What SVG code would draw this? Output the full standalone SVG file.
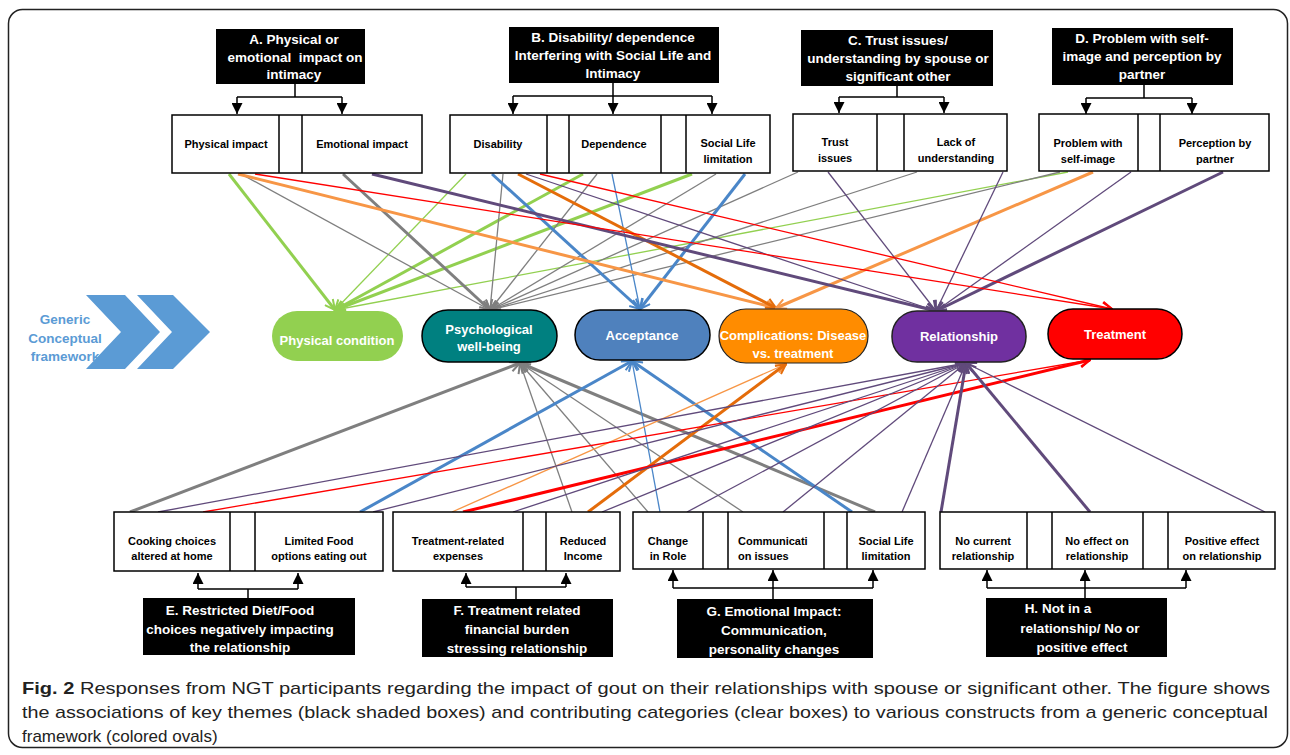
<svg xmlns="http://www.w3.org/2000/svg" width="1290" height="755" viewBox="0 0 1290 755">
<defs>
<style>
.frame{fill:#fff;stroke:#222;stroke-width:1.5}
.kb{fill:#000}
.kt{fill:#fff;font-family:"Liberation Sans",Arial,sans-serif;font-weight:bold;font-size:13.5px;text-anchor:middle}
.box{fill:#fff;stroke:#000;stroke-width:1.5}
.bt{fill:#000;font-family:"Liberation Sans",Arial,sans-serif;font-weight:bold;font-size:11px;text-anchor:middle}
.ot{fill:#fff;font-family:"Liberation Sans",Arial,sans-serif;font-weight:bold;font-size:13px;text-anchor:middle}
.kc{fill:none;stroke:#000;stroke-width:1.5}
.t1{stroke-width:1.3;fill:none}
.t3{stroke-width:3;fill:none}
.g{stroke:#92D050}.y{stroke:#7F7F7F}.o{stroke:#F79646}.d{stroke:#E46C0A}.r{stroke:#FF0000}.p{stroke:#604A7B}.b{stroke:#4A86C8}
.cap{font-family:"Liberation Sans",Arial,sans-serif;font-size:17px;fill:#222}
.gen{fill:#5B9BD5;font-family:"Liberation Sans",Arial,sans-serif;font-weight:bold;font-size:13.5px;text-anchor:middle}
</style>
<marker id="aG" viewBox="0 0 12 12" refX="11" refY="6" markerWidth="12" markerHeight="12" markerUnits="userSpaceOnUse" orient="auto"><path d="M1,1 L11,6 L1,11" fill="none" stroke="#92D050" stroke-width="2"/></marker>
<marker id="aY" viewBox="0 0 12 12" refX="11" refY="6" markerWidth="12" markerHeight="12" markerUnits="userSpaceOnUse" orient="auto"><path d="M1,1 L11,6 L1,11" fill="none" stroke="#7F7F7F" stroke-width="2"/></marker>
<marker id="aO" viewBox="0 0 12 12" refX="11" refY="6" markerWidth="12" markerHeight="12" markerUnits="userSpaceOnUse" orient="auto"><path d="M1,1 L11,6 L1,11" fill="none" stroke="#F79646" stroke-width="2"/></marker>
<marker id="aD" viewBox="0 0 12 12" refX="11" refY="6" markerWidth="12" markerHeight="12" markerUnits="userSpaceOnUse" orient="auto"><path d="M1,1 L11,6 L1,11" fill="none" stroke="#E46C0A" stroke-width="2"/></marker>
<marker id="aR" viewBox="0 0 12 12" refX="11" refY="6" markerWidth="12" markerHeight="12" markerUnits="userSpaceOnUse" orient="auto"><path d="M1,1 L11,6 L1,11" fill="none" stroke="#FF0000" stroke-width="2"/></marker>
<marker id="aP" viewBox="0 0 12 12" refX="11" refY="6" markerWidth="12" markerHeight="12" markerUnits="userSpaceOnUse" orient="auto"><path d="M1,1 L11,6 L1,11" fill="none" stroke="#604A7B" stroke-width="2"/></marker>
<marker id="aB" viewBox="0 0 12 12" refX="11" refY="6" markerWidth="12" markerHeight="12" markerUnits="userSpaceOnUse" orient="auto"><path d="M1,1 L11,6 L1,11" fill="none" stroke="#4A86C8" stroke-width="2"/></marker>
<marker id="aK" viewBox="0 0 10 10" refX="10" refY="5" markerWidth="12" markerHeight="11" markerUnits="userSpaceOnUse" orient="auto"><path d="M0,0 L10,5 L0,10 z" fill="#000"/></marker>
</defs>

<rect class="frame" x="8.5" y="9.5" width="1279" height="738" rx="14"/>

<g id="connectors">
<!-- theme to category brackets -->
<path class="kc" d="M295,84 V97 M237,97 H342 M613,83 V96 M513,96 H712 M897,86 V97 M839,97 H944 M1144,85 V98 M1086,98 H1192"/>
<path class="kc" d="M237,97 V114" marker-end="url(#aK)"/>
<path class="kc" d="M342,97 V114" marker-end="url(#aK)"/>
<path class="kc" d="M513,96 V114" marker-end="url(#aK)"/>
<path class="kc" d="M613,96 V114" marker-end="url(#aK)"/>
<path class="kc" d="M712,96 V114" marker-end="url(#aK)"/>
<path class="kc" d="M839,97 V113" marker-end="url(#aK)"/>
<path class="kc" d="M944,97 V113" marker-end="url(#aK)"/>
<path class="kc" d="M1086,98 V114" marker-end="url(#aK)"/>
<path class="kc" d="M1192,98 V114" marker-end="url(#aK)"/>
<path class="kc" d="M248,598 V589 M198,589 H298 M516,599 V587 M466,587 H566 M773,599 V588 M673,588 H873 M1085,598 V588 M987,588 H1186"/>
<path class="kc" d="M198,589 V573" marker-end="url(#aK)"/>
<path class="kc" d="M298,589 V573" marker-end="url(#aK)"/>
<path class="kc" d="M466,587 V573" marker-end="url(#aK)"/>
<path class="kc" d="M566,587 V573" marker-end="url(#aK)"/>
<path class="kc" d="M673,588 V570" marker-end="url(#aK)"/>
<path class="kc" d="M773,588 V570" marker-end="url(#aK)"/>
<path class="kc" d="M873,588 V570" marker-end="url(#aK)"/>
<path class="kc" d="M987,588 V570" marker-end="url(#aK)"/>
<path class="kc" d="M1085,588 V570" marker-end="url(#aK)"/>
<path class="kc" d="M1186,588 V570" marker-end="url(#aK)"/>

<!-- top categories to constructs -->
<line class="t3 g" x1="229" y1="174" x2="335" y2="310" marker-end="url(#aG)"/>
<line class="t3 g" x1="583" y1="174" x2="335" y2="310" marker-end="url(#aG)"/>
<line class="t3 g" x1="692" y1="174" x2="335" y2="310" marker-end="url(#aG)"/>
<line class="t1 g" x1="466" y1="174" x2="335" y2="310" marker-end="url(#aG)"/>
<line class="t1 g" x1="1068" y1="172" x2="335" y2="310" marker-end="url(#aG)"/>

<line class="t1 y" x1="241" y1="174" x2="490" y2="310" marker-end="url(#aY)"/>
<line class="t3 y" x1="343" y1="174" x2="490" y2="310" marker-end="url(#aY)"/>
<line class="t1 y" x1="503" y1="174" x2="490" y2="310" marker-end="url(#aY)"/>
<line class="t1 y" x1="597" y1="174" x2="490" y2="310" marker-end="url(#aY)"/>
<line class="t1 y" x1="716" y1="174" x2="490" y2="310" marker-end="url(#aY)"/>
<line class="t1 y" x1="798" y1="172" x2="490" y2="310" marker-end="url(#aY)"/>
<line class="t1 y" x1="917" y1="172" x2="490" y2="310" marker-end="url(#aY)"/>
<line class="t1 y" x1="1060" y1="172" x2="490" y2="310" marker-end="url(#aY)"/>

<line class="t3 b" x1="492" y1="174" x2="640" y2="309" marker-end="url(#aB)"/>
<line class="t1 b" x1="612" y1="174" x2="640" y2="309" marker-end="url(#aB)"/>
<line class="t3 b" x1="745" y1="174" x2="640" y2="309" marker-end="url(#aB)"/>

<line class="t3 o" x1="238" y1="174" x2="776" y2="308" marker-end="url(#aO)"/>
<line class="t3 d" x1="518" y1="174" x2="776" y2="308" marker-end="url(#aD)"/>
<line class="t3 o" x1="1093" y1="172" x2="776" y2="308" marker-end="url(#aO)"/>

<line class="t3 p" x1="372" y1="174" x2="936" y2="311" marker-end="url(#aP)"/>
<line class="t1 p" x1="526" y1="174" x2="936" y2="311" marker-end="url(#aP)"/>
<line class="t1 p" x1="828" y1="172" x2="936" y2="311" marker-end="url(#aP)"/>
<line class="t1 p" x1="1003" y1="172" x2="936" y2="311" marker-end="url(#aP)"/>
<line class="t1 p" x1="1131" y1="172" x2="936" y2="311" marker-end="url(#aP)"/>
<line class="t3 p" x1="1223" y1="172" x2="936" y2="311" marker-end="url(#aP)"/>

<line class="t1 r" x1="255" y1="174" x2="1112" y2="309" marker-end="url(#aR)"/>
<line class="t1 r" x1="540" y1="174" x2="1112" y2="309" marker-end="url(#aR)"/>

<!-- bottom categories to constructs -->
<line class="t3 y" x1="130" y1="512" x2="520" y2="363" marker-end="url(#aY)"/>
<line class="t1 y" x1="572" y1="512" x2="520" y2="363" marker-end="url(#aY)"/>
<line class="t1 y" x1="648" y1="512" x2="520" y2="363" marker-end="url(#aY)"/>
<line class="t1 y" x1="743" y1="512" x2="520" y2="363" marker-end="url(#aY)"/>
<line class="t3 y" x1="875" y1="512" x2="520" y2="363" marker-end="url(#aY)"/>

<line class="t3 b" x1="360" y1="512" x2="632" y2="361" marker-end="url(#aB)"/>
<line class="t1 b" x1="660" y1="512" x2="632" y2="361" marker-end="url(#aB)"/>
<line class="t3 b" x1="852" y1="512" x2="632" y2="361" marker-end="url(#aB)"/>

<line class="t1 o" x1="452" y1="512" x2="786" y2="364" marker-end="url(#aO)"/>
<line class="t3 d" x1="588" y1="512" x2="786" y2="364" marker-end="url(#aD)"/>

<line class="t1 r" x1="203" y1="512" x2="1090" y2="360" marker-end="url(#aR)"/>
<line class="t3 r" x1="463" y1="512" x2="1090" y2="360" marker-end="url(#aR)"/>

<line class="t1 p" x1="158" y1="512" x2="966" y2="363" marker-end="url(#aP)"/>
<line class="t1 p" x1="373" y1="512" x2="966" y2="363" marker-end="url(#aP)"/>
<line class="t1 p" x1="513" y1="512" x2="966" y2="363" marker-end="url(#aP)"/>
<line class="t1 p" x1="602" y1="512" x2="966" y2="363" marker-end="url(#aP)"/>
<line class="t1 p" x1="687" y1="512" x2="966" y2="363" marker-end="url(#aP)"/>
<line class="t1 p" x1="783" y1="512" x2="966" y2="363" marker-end="url(#aP)"/>
<line class="t1 p" x1="902" y1="512" x2="966" y2="363" marker-end="url(#aP)"/>
<line class="t3 p" x1="941" y1="512" x2="966" y2="363" marker-end="url(#aP)"/>
<line class="t3 p" x1="1090" y1="512" x2="966" y2="363" marker-end="url(#aP)"/>
<line class="t1 p" x1="1265" y1="512" x2="966" y2="363" marker-end="url(#aP)"/>
</g>

<!-- Theme A -->
<g id="themeA">
<rect class="kb" x="216" y="29" width="149" height="55"/>
<text class="kt" x="294" y="44">A. Physical or</text>
<text class="kt" x="295" y="62" xml:space="preserve">emotional  impact on</text>
<text class="kt" x="294" y="79">intimacy</text>
</g>
<g id="catA">
<rect class="box" x="172" y="115" width="250" height="58"/>
<path class="box" d="M279,115 V173 M302,115 V173"/>
<text class="bt" x="226" y="148">Physical impact</text>
<text class="bt" x="362" y="148">Emotional impact</text>
</g>

<!-- Theme B -->
<g id="themeB">
<rect class="kb" x="509" y="27" width="210" height="56"/>
<text class="kt" x="613" y="42">B. Disability/ dependence</text>
<text class="kt" x="613" y="60">Interfering with Social Life and</text>
<text class="kt" x="613" y="78">Intimacy</text>
</g>
<g id="catB">
<rect class="box" x="450" y="115" width="320" height="58"/>
<path class="box" d="M547,115 V173 M569,115 V173 M661,115 V173 M686,115 V173"/>
<text class="bt" x="498" y="148">Disability</text>
<text class="bt" x="614" y="148">Dependence</text>
<text class="bt" x="728" y="147">Social Life</text>
<text class="bt" x="728" y="163">limitation</text>
</g>

<!-- Theme C -->
<g id="themeC">
<rect class="kb" x="801" y="30" width="192" height="56"/>
<text class="kt" x="898" y="45">C. Trust issues/</text>
<text class="kt" x="898" y="63">understanding by spouse or</text>
<text class="kt" x="898" y="81">significant other</text>
</g>
<g id="catC">
<rect class="box" x="793" y="114" width="214" height="57"/>
<path class="box" d="M877,114 V171 M904,114 V171"/>
<text class="bt" x="835" y="146">Trust</text>
<text class="bt" x="835" y="162">issues</text>
<text class="bt" x="956" y="146">Lack of</text>
<text class="bt" x="956" y="162">understanding</text>
</g>

<!-- Theme D -->
<g id="themeD">
<rect class="kb" x="1052" y="28" width="181" height="57"/>
<text class="kt" x="1142" y="43">D. Problem with self-</text>
<text class="kt" x="1142" y="61">image and perception by</text>
<text class="kt" x="1142" y="79">partner</text>
</g>
<g id="catD">
<rect class="box" x="1039" y="114" width="230" height="57"/>
<path class="box" d="M1138,114 V171 M1160,114 V171"/>
<text class="bt" x="1088" y="147">Problem with</text>
<text class="bt" x="1088" y="163">self-image</text>
<text class="bt" x="1215" y="147">Perception by</text>
<text class="bt" x="1215" y="163">partner</text>
</g>

<!-- Generic conceptual framework -->
<g id="generic">
<text class="gen" x="65" y="324">Generic</text>
<text class="gen" x="65" y="343">Conceptual</text>
<text class="gen" x="65" y="361">framework</text>
<polygon fill="#5B9BD5" points="86,295 125,295 160,332 125,369 86,369 121,332"/>
<polygon fill="#5B9BD5" points="137,295 173,295 210,332 173,369 137,369 172,332"/>
</g>

<!-- Constructs -->
<g id="physical-condition">
<rect x="272" y="311" width="131" height="50" rx="25" fill="#92D050"/>
<text class="ot" x="337" y="345">Physical condition</text>
</g>
<g id="psychological">
<rect x="422" y="310" width="135" height="52" rx="26" fill="#008080" stroke="#000" stroke-width="1.5"/>
<text class="ot" x="489" y="334">Psychological</text>
<text class="ot" x="489" y="351">well-being</text>
</g>
<g id="acceptance">
<rect x="575" y="310" width="135" height="50" rx="25" fill="#4F81BD" stroke="#000" stroke-width="1.5"/>
<text class="ot" x="642" y="340">Acceptance</text>
</g>
<g id="complications">
<rect x="719" y="309" width="149" height="54" rx="27" fill="#FF8C00" stroke="#222" stroke-width="1.2"/>
<text class="ot" x="793" y="340">Complications: Disease</text>
<text class="ot" x="793" y="358">vs. treatment</text>
</g>
<g id="relationship">
<rect x="892" y="311" width="134" height="51" rx="25" fill="#7030A0" stroke="#222" stroke-width="1.5"/>
<text class="ot" x="959" y="341">Relationship</text>
</g>
<g id="treatment">
<rect x="1048" y="309" width="134" height="50" rx="25" fill="#FF0000" stroke="#000" stroke-width="1.5"/>
<text class="ot" x="1115" y="339">Treatment</text>
</g>

<!-- Theme E -->
<g id="catE">
<rect class="box" x="114" y="512" width="269" height="59"/>
<path class="box" d="M230,512 V571 M255,512 V571"/>
<text class="bt" x="172" y="545">Cooking choices</text>
<text class="bt" x="172" y="560">altered at home</text>
<text class="bt" x="319" y="545">Limited Food</text>
<text class="bt" x="319" y="560">options eating out</text>
</g>
<g id="themeE">
<rect class="kb" x="143" y="598" width="212" height="57"/>
<text class="kt" x="240" y="615">E. Restricted Diet/Food</text>
<text class="kt" x="240" y="634">choices negatively impacting</text>
<text class="kt" x="240" y="652">the relationship</text>
</g>

<!-- Theme F -->
<g id="catF">
<rect class="box" x="393" y="512" width="227" height="59"/>
<path class="box" d="M523,512 V571 M546,512 V571"/>
<text class="bt" x="458" y="545">Treatment-related</text>
<text class="bt" x="458" y="560">expenses</text>
<text class="bt" x="583" y="545">Reduced</text>
<text class="bt" x="583" y="560">Income</text>
</g>
<g id="themeF">
<rect class="kb" x="422" y="599" width="191" height="58"/>
<text class="kt" x="517" y="615">F. Treatment related</text>
<text class="kt" x="517" y="634">financial burden</text>
<text class="kt" x="517" y="653">stressing relationship</text>
</g>

<!-- Theme G -->
<g id="catG">
<rect class="box" x="633" y="512" width="292" height="57"/>
<path class="box" d="M703,512 V569 M728,512 V569 M824,512 V569 M847,512 V569"/>
<text class="bt" x="668" y="545">Change</text>
<text class="bt" x="668" y="560">in Role</text>
<text class="bt" x="738" y="545" style="text-anchor:start">Communicati</text>
<text class="bt" x="738" y="560" style="text-anchor:start">on issues</text>
<text class="bt" x="886" y="545">Social Life</text>
<text class="bt" x="886" y="560">limitation</text>
</g>
<g id="themeG">
<rect class="kb" x="677" y="599" width="196" height="59"/>
<text class="kt" x="774" y="616">G. Emotional Impact:</text>
<text class="kt" x="774" y="635">Communication,</text>
<text class="kt" x="774" y="654">personality changes</text>
</g>

<!-- Theme H -->
<g id="catH">
<rect class="box" x="940" y="512" width="335" height="57"/>
<path class="box" d="M1027,512 V569 M1052,512 V569 M1143,512 V569 M1168,512 V569"/>
<text class="bt" x="983" y="545">No current</text>
<text class="bt" x="983" y="560">relationship</text>
<text class="bt" x="1097" y="545">No effect on</text>
<text class="bt" x="1097" y="560">relationship</text>
<text class="bt" x="1222" y="545">Positive effect</text>
<text class="bt" x="1222" y="560">on relationship</text>
</g>
<g id="themeH">
<rect class="kb" x="986" y="598" width="181" height="59"/>
<text class="kt" x="1058" y="613">H. Not in a</text>
<text class="kt" x="1080" y="633">relationship/ No or</text>
<text class="kt" x="1082" y="652">positive effect</text>
</g>

<!-- Caption -->
<g id="caption">
<text class="cap" x="22" y="694" textLength="1248" lengthAdjust="spacingAndGlyphs"><tspan font-weight="bold">Fig. 2</tspan> Responses from NGT participants regarding the impact of gout on their relationships with spouse or significant other. The figure shows</text>
<text class="cap" x="22" y="718" textLength="1246" lengthAdjust="spacingAndGlyphs">the associations of key themes (black shaded boxes) and contributing categories (clear boxes) to various constructs from a generic conceptual</text>
<text class="cap" x="22" y="742">framework (colored ovals)</text>
</g>
</svg>
